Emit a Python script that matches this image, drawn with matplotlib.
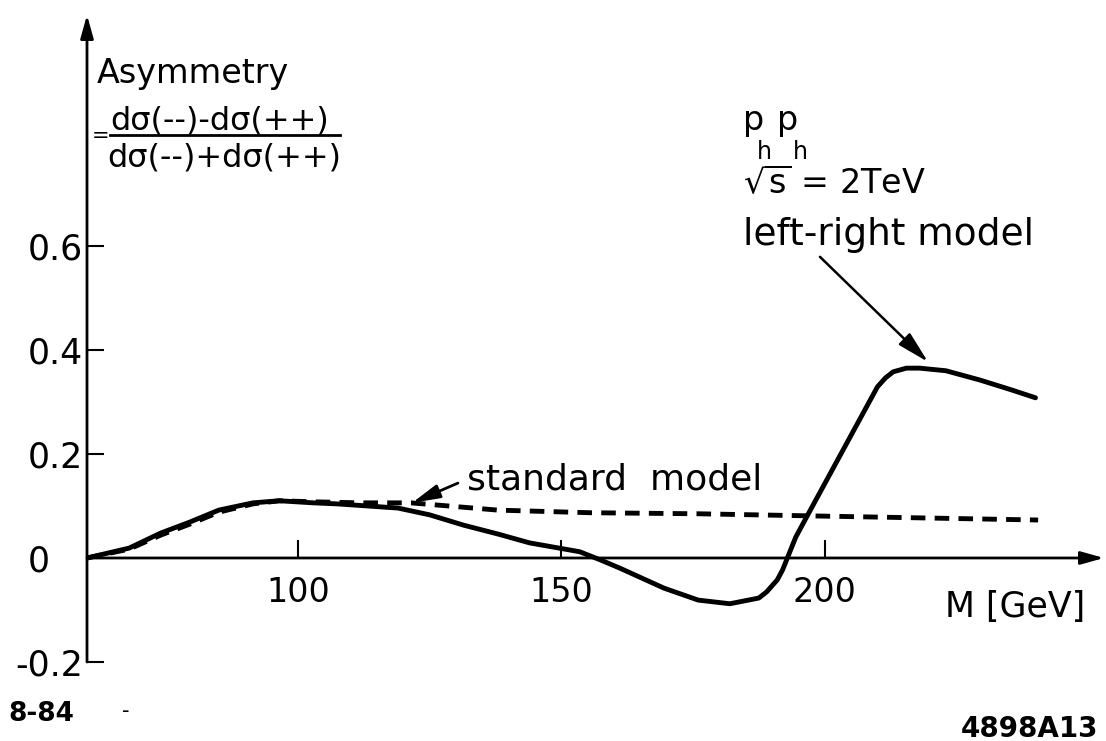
import matplotlib
matplotlib.use("Agg")
import matplotlib.pyplot as plt

# left-right model, pp at sqrt(s) = 2 TeV
mass_lr = [60, 68, 74, 79.5, 85, 91.5, 96.5, 103, 107.5, 119, 125, 131.5, 138,
           144, 153.5, 157.5, 161, 169.5, 176, 182, 187.5, 189, 191, 192, 194.5,
           197, 203.5, 210, 211.5, 213, 215.5, 218, 223, 229.5, 235.5, 240]
asym_lr = [0.0, 0.019, 0.048, 0.069, 0.092, 0.106, 0.110, 0.106, 0.104, 0.096,
           0.083, 0.063, 0.046, 0.029, 0.012, -0.004, -0.019, -0.058, -0.081,
           -0.088, -0.077, -0.065, -0.042, -0.023, 0.040, 0.087, 0.208, 0.329,
           0.346, 0.358, 0.365, 0.365, 0.360, 0.342, 0.323, 0.308]

# standard model
mass_sm = [60, 68, 74, 79.5, 85, 91.5, 96.5, 103, 112, 121.5, 138, 155.5, 176,
           197, 240.5]
asym_sm = [0.0, 0.017, 0.044, 0.065, 0.088, 0.104, 0.110, 0.108, 0.106, 0.106,
           0.092, 0.087, 0.085, 0.081, 0.073]

x_ticks = [100, 150, 200]
y_ticks = [-0.2, 0.0, 0.2, 0.4, 0.6]
y_ticklabels = ["-0.2", "0   ", "0.2", "0.4", "0.6"]

XMIN, XMAX = 60, 253
YMIN, YMAX = -0.2, 1.044


def main():
    plt.rcParams["font.family"] = ["DejaVu Sans"]
    plt.rcParams["mathtext.fontset"] = "dejavusans"

    fig = plt.figure(figsize=(11.06, 7.41), dpi=100)
    ax = fig.add_axes([87 / 1106, 79 / 741, 1017 / 1106, 647 / 741])
    ax.set_xlim(XMIN, XMAX)
    ax.set_ylim(YMIN, YMAX)

    # axes drawn as arrows, spines only carry the ticks
    for side in ("top", "right", "left", "bottom"):
        ax.spines[side].set_visible(False)
    ax.spines["bottom"].set_position(("data", 0))

    axis_kw = dict(arrowstyle="-|>,head_length=1.0,head_width=0.28",
                   lw=2.0, color="black", shrinkA=0, shrinkB=0,
                   mutation_scale=14)
    ax.annotate("", xy=(XMIN, YMAX), xytext=(XMIN, YMIN),
                arrowprops=axis_kw, annotation_clip=False)
    ax.annotate("", xy=(XMAX, 0), xytext=(XMIN, 0),
                arrowprops=axis_kw, annotation_clip=False)

    ax.set_xticks(x_ticks)
    ax.set_xticklabels([str(t) for t in x_ticks], fontsize=24)
    ax.set_yticks(y_ticks)
    ax.set_yticklabels(y_ticklabels, fontsize=25)
    ax.tick_params(axis="x", direction="in", length=13, width=1.5, pad=13)
    ax.tick_params(axis="y", direction="in", length=12, width=1.5, pad=3)

    ax.plot(mass_lr, asym_lr, color="black", lw=3.5,
            solid_joinstyle="round", solid_capstyle="round")
    ax.plot(mass_sm, asym_sm, color="black", lw=3.5, dashes=(3.0, 1.9))

    # y-axis title
    ax.text(61.9, 0.913, "Asymmetry", fontsize=24, va="baseline")
    ax.text(60.9, 0.812, "=", fontsize=15, va="center")
    ax.text(64.4, 0.823, "dσ(--)-dσ(++)", fontsize=23, va="baseline")
    ax.plot([64.4, 108.0], [0.813, 0.813], color="black", lw=2.0,
            clip_on=False)
    ax.text(63.8, 0.752, "dσ(--)+dσ(++)", fontsize=23, va="baseline")

    # process label
    for xp, xh in ((184.5, 187.2), (190.9, 194.0)):
        ax.text(xp, 0.823, "p", fontsize=24, va="baseline")
        ax.text(xh, 0.768, "h", fontsize=17, va="baseline")
    ax.text(184.5, 0.702, r"$\sqrt{\mathrm{s}}$ = 2TeV", fontsize=24,
            va="baseline")
    ax.text(184.5, 0.602, "left-right model", fontsize=27, va="baseline")
    ax.annotate("", xy=(219.6, 0.377), xytext=(199.1, 0.579),
                arrowprops=dict(arrowstyle="-|>,head_length=1.4,head_width=0.35",
                                lw=1.8, color="black", shrinkA=0, shrinkB=0,
                                mutation_scale=14))

    ax.text(132.1, 0.131, "standard  model", fontsize=26, va="baseline")
    ax.annotate("", xy=(121.7, 0.106), xytext=(130.4, 0.144),
                arrowprops=dict(arrowstyle="-|>,head_length=1.2,head_width=0.3",
                                lw=2.0, color="black", shrinkA=0, shrinkB=0,
                                mutation_scale=14))

    ax.text(222.8, -0.113, "M [GeV]", fontsize=25, va="baseline")

    fig.text(8 / 1106, 20 / 741, "8-84", fontsize=19, fontweight="bold",
             va="baseline")
    fig.text(122 / 1106, 24 / 741, "-", fontsize=15, va="baseline")
    fig.text(1098 / 1106, 4 / 741, "4898A13", fontsize=20, fontweight="bold",
             ha="right", va="baseline")

    fig.savefig("out.png", dpi=100)


if __name__ == "__main__":
    main()
